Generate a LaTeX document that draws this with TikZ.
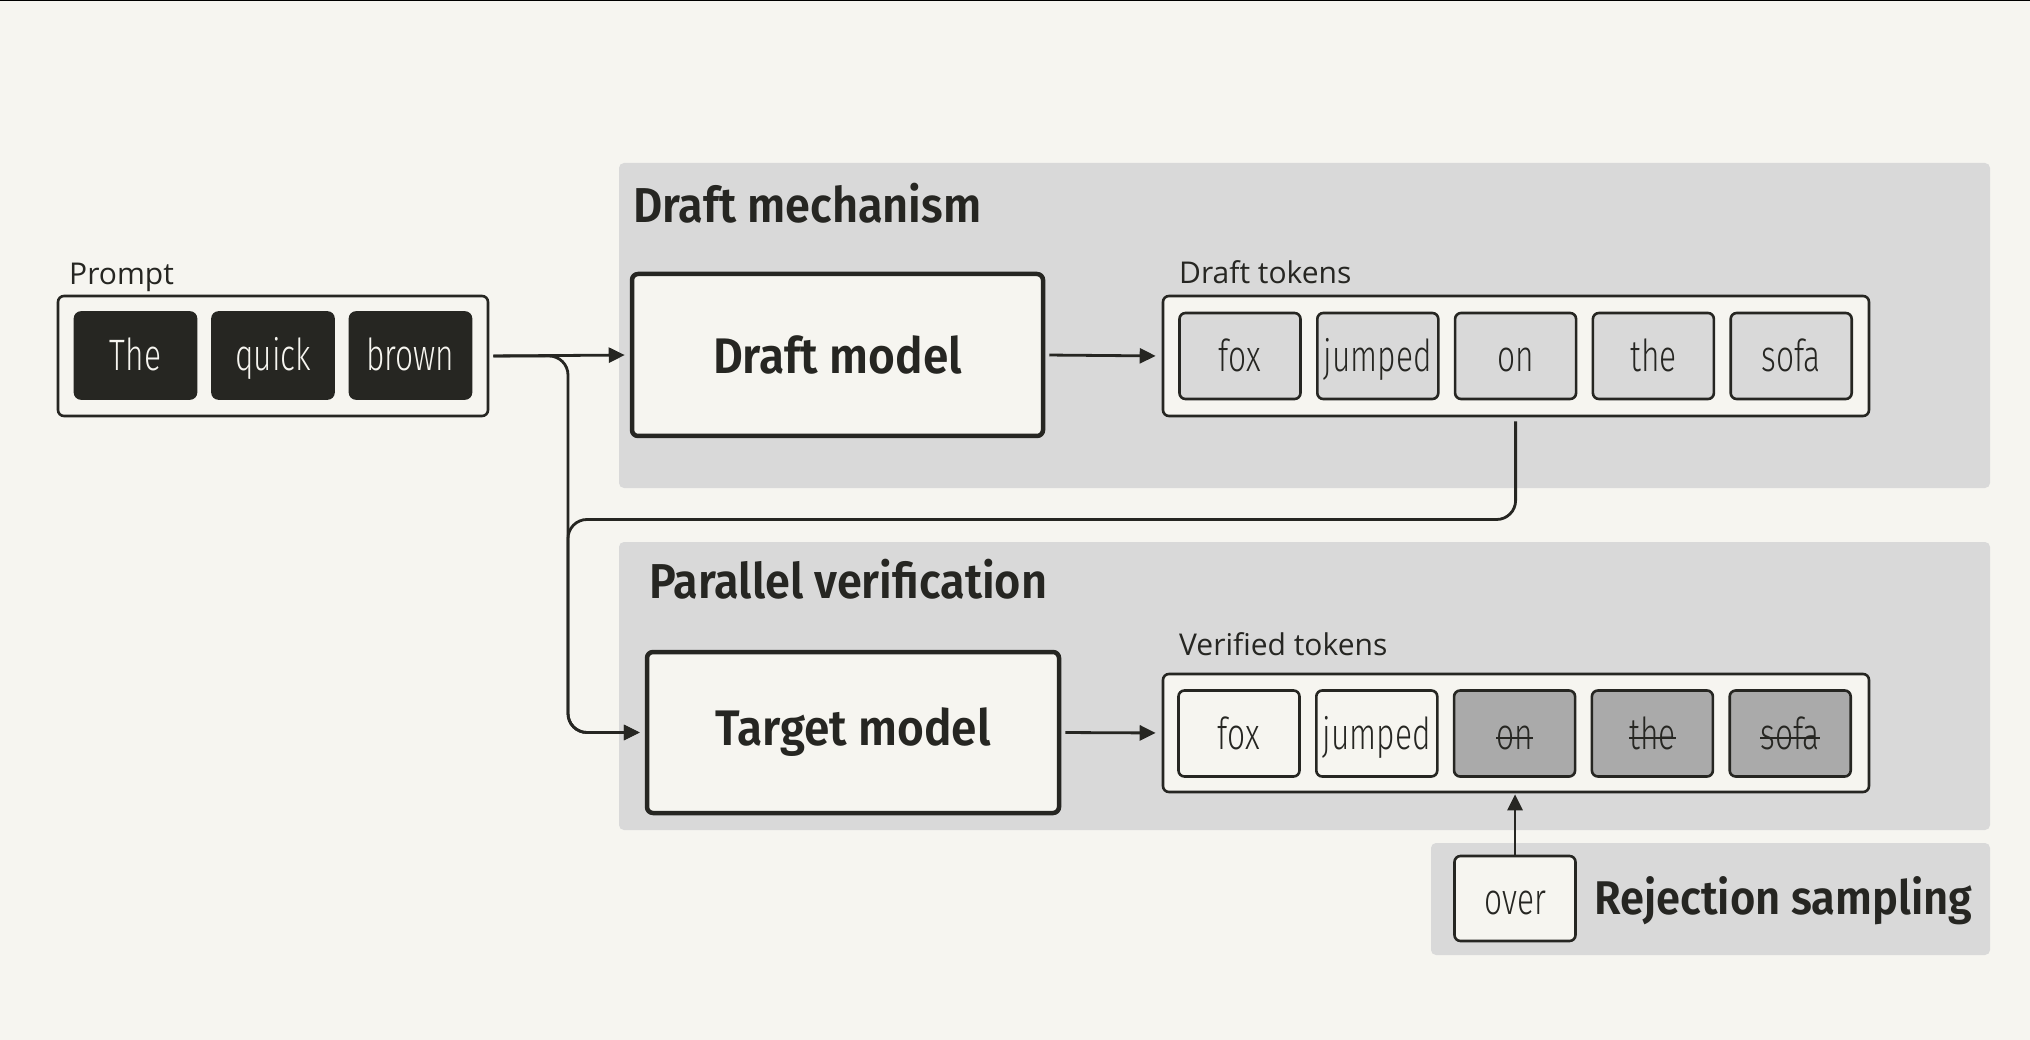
\documentclass[tikz,border=0pt]{standalone}
\usepackage{fontspec}
\usetikzlibrary{arrows.meta}
\setmainfont{Open Sans}
\newfontfamily\titlefont{Fira Sans SemiBold}[FakeStretch=0.92]
\newfontfamily\tokfont{Fira Sans Light}[FakeStretch=0.72]
\definecolor{bgc}{HTML}{F6F5F0}
\definecolor{panelc}{HTML}{D9D9D9}
\definecolor{inkc}{HTML}{262622}
\definecolor{rejc}{HTML}{AAAAAA}
\begin{document}
\begin{tikzpicture}[x=1pt,y=-1pt,
  panel/.style={fill=panelc, rounded corners=5pt},
  container/.style={draw=inkc, line width=2.6pt, fill=bgc, rounded corners=6pt, minimum width=706pt, minimum height=120pt, inner sep=0pt},
  tok/.style={draw=inkc, line width=2.6pt, rounded corners=6pt, minimum width=121pt, minimum height=86pt, inner sep=0pt, text height=40pt, text depth=9pt, font=\tokfont\fontsize{44}{44}\selectfont, text=inkc},
  ptok/.style={tok, fill=inkc, text=bgc},
  dtok/.style={tok, fill=panelc},
  oktok/.style={tok, fill=bgc},
  rjtok/.style={tok, fill=rejc},
  striketext/.style={anchor=base, inner sep=0pt, font=\tokfont\fontsize{44}{44}\selectfont, text=inkc},
  strike/.style={draw=inkc, line width=2.4pt},
  model/.style={draw=inkc, line width=4.5pt, fill=bgc, rounded corners=6pt, inner sep=0pt, font=\titlefont\fontsize{50}{50}\selectfont, text=inkc},
  title/.style={anchor=base west, inner sep=0pt, font=\titlefont\fontsize{49}{49}\selectfont, text=inkc},
  lab/.style={anchor=base west, inner sep=0pt, font=\fontsize{30}{30}\selectfont, text=inkc},
  conn/.style={draw=inkc, line width=2.8pt, rounded corners=19pt},
  arr/.style={conn, -{Triangle[length=16pt,width=15pt]}}
]
\fill[bgc] (0,0) rectangle (2030,1040);
\useasboundingbox (0,0) rectangle (2030,1040);
\fill[black] (0,0) rectangle (2030,1.5);

% panels
\fill[panel] (619,163) rectangle (1990,488);
\fill[panel] (619,542) rectangle (1990,830);
\fill[panel] (1431,843) rectangle (1990,955);

\node[title] (t1) at (633,223) {Draft mechanism};
\node[title] (t2) at (649,598) {Parallel verification};
\node[title, font=\titlefont\fontsize{47.3}{47.3}\selectfont] (t3) at (1594,914) {Rejection sampling};

% prompt
\node[lab] (lp) at (69,285) {Prompt};
\node[container, minimum width=430pt] (prompt) at (273,356) {};
\node[ptok] (p1) at (135.5,355.5) {The};
\node[ptok] (p2) at (273,355.5) {quick};
\node[ptok] (p3) at (410.5,355.5) {brown};

% models
\node[model, minimum width=411pt, minimum height=162pt] (draft) at (837.5,355) {Draft model};
\node[model, minimum width=412pt, minimum height=161pt] (target) at (853,732.5) {Target model};

% draft tokens
\node[lab] (ld) at (1179,284) {Draft tokens};
\node[container] (dtc) at (1516,356) {};
\node[dtok] (d1) at (1240,356) {fox};
\node[dtok] (d2) at (1377.8,356) {jumped};
\node[dtok] (d3) at (1515.6,356) {on};
\node[dtok] (d4) at (1653.4,356) {the};
\node[dtok] (d5) at (1791.2,356) {sofa};

% verified tokens
\node[lab] (lv) at (1179,655) {Verified tokens};
\node[container, minimum height=118pt] (vtc) at (1516,733) {};
\node[oktok] (v1) at (1239,733.5) {fox};
\node[oktok] (v2) at (1376.8,733.5) {jumped};
\node[rjtok] (v3) at (1514.6,733.5) {};
\node[rjtok] (v4) at (1652.4,733.5) {};
\node[rjtok] (v5) at (1790.2,733.5) {};
\node[striketext] (s3) at (1514.6,749) {on};
\node[striketext] (s4) at (1652.4,749) {the};
\node[striketext] (s5) at (1790.2,749) {sofa};
\draw[strike] (s3.base west) ++(0,-11) -- ([yshift=11pt]s3.base east);
\draw[strike] (s4.base west) ++(0,-11) -- ([yshift=11pt]s4.base east);
\draw[strike] (s5.base west) ++(0,-11) -- ([yshift=11pt]s5.base east);

% rejection
\node[oktok, minimum height=85pt] (over) at (1515,898.5) {over};

% connectors
\coordinate (bx) at (568,356);
\coordinate (jy) at (568,519.5);
\coordinate (tx) at (568,732.5);
\draw[arr, shorten <=4pt, shorten >=5pt] (prompt.east) -- (draft.west);
\draw[arr, shorten <=4pt, shorten >=5pt] (prompt.east) -- (bx) -- (tx) -- (target.west);
\draw[arr, shorten <=4pt, shorten >=5pt] (d3.south |- dtc.south) -- (d3.south |- jy) -- (jy) -- (tx) -- (target.west);
\draw[arr, shorten <=4pt, shorten >=6pt] (draft.east) -- (dtc.west);
\draw[arr, shorten <=4pt, shorten >=6pt] (target.east) -- (vtc.west);
\draw[arr, shorten <=0pt, shorten >=1pt] (over.north) -- (over.north |- vtc.south);
\end{tikzpicture}
\end{document}
